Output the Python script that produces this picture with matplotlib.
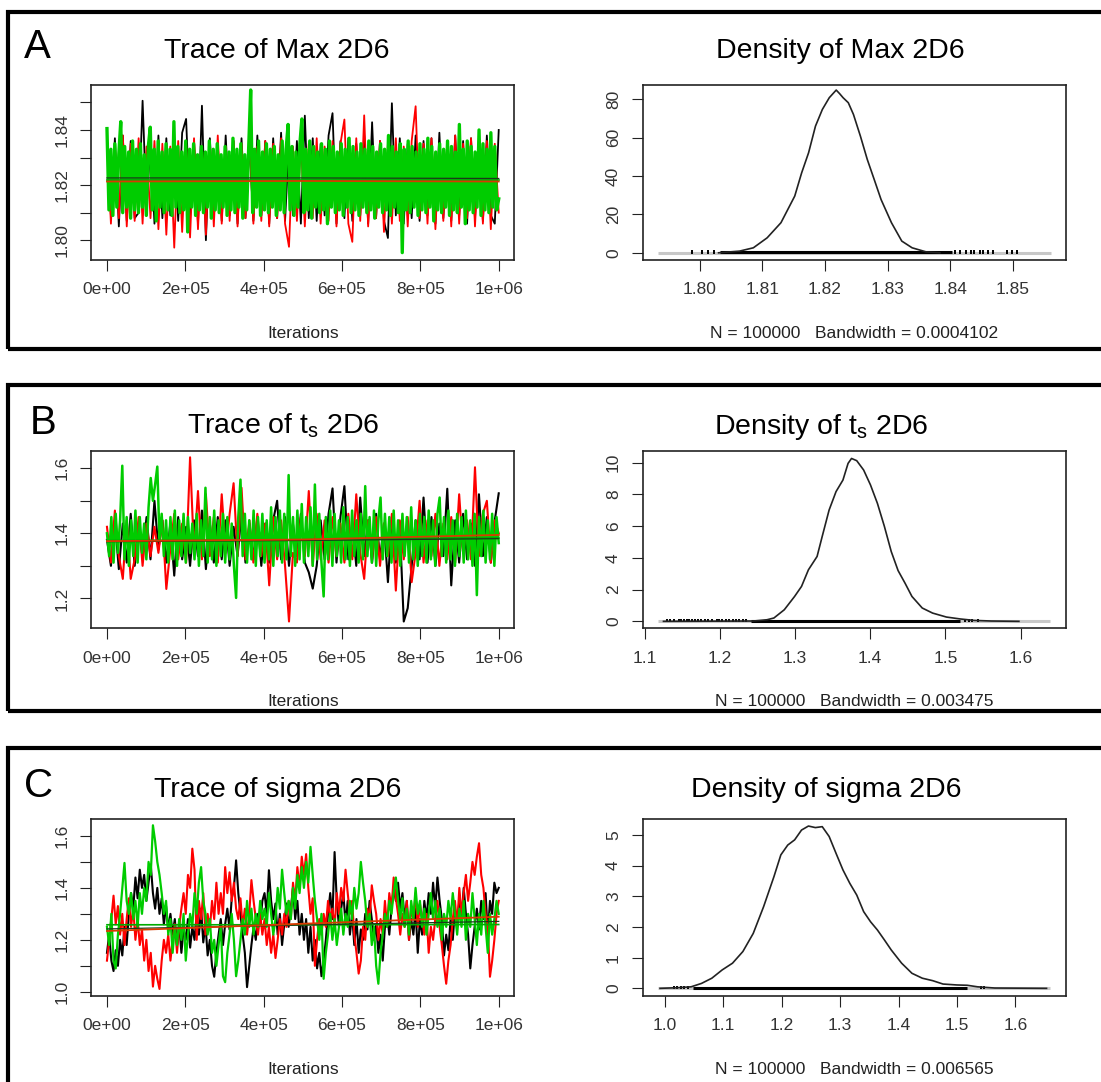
import numpy as np
import matplotlib
matplotlib.use("Agg")
import matplotlib.pyplot as plt
from matplotlib.patches import Rectangle

plt.rcParams["font.family"] = ["Liberation Sans", "DejaVu Sans"]
plt.rcParams["mathtext.fontset"] = "custom"
plt.rcParams["mathtext.rm"] = "Liberation Sans"
plt.rcParams["mathtext.default"] = "regular"

W, H = 1101, 1082

# ---------------- data ----------------
iter_ticks = [0, 200000, 400000, 600000, 800000, 1000000]
iter_labels = ["0e+00", "2e+05", "4e+05", "6e+05", "8e+05", "1e+06"]
chain_colors = ["#000000", "#ff0000", "#00cc00"]

# panel A: Max 2D6 (three chains, black / red / green)
max_black = [1.835, 1.809, 1.837, 1.805, 1.838, 1.807, 1.836, 1.808, 1.810, 1.8506,
             1.811, 1.836, 1.806, 1.838, 1.808, 1.837, 1.809, 1.835, 1.807, 1.839,
             1.844, 1.808, 1.836, 1.806, 1.8488, 1.800, 1.837, 1.808, 1.835, 1.807,
             1.838, 1.809, 1.836, 1.806, 1.837, 1.808, 1.835, 1.807, 1.838, 1.809,
             1.836, 1.806, 1.837, 1.808, 1.839, 1.807, 1.835, 1.809, 1.836, 1.806,
             1.8452, 1.808, 1.837, 1.807, 1.835, 1.809, 1.838, 1.8461, 1.806, 1.836,
             1.808, 1.837, 1.807, 1.835, 1.809, 1.838, 1.806, 1.8428, 1.808, 1.836,
             1.807, 1.8008, 1.8497, 1.809, 1.837, 1.806, 1.835, 1.808, 1.838, 1.807,
             1.836, 1.809, 1.837, 1.806, 1.839, 1.808, 1.835, 1.807, 1.838, 1.809,
             1.836, 1.806, 1.837, 1.808, 1.835, 1.807, 1.838, 1.809, 1.806, 1.840]
max_red = [1.836, 1.806, 1.834, 1.808, 1.838, 1.805, 1.835, 1.807, 1.837, 1.806,
           1.834, 1.808, 1.836, 1.804, 1.835, 1.802, 1.834, 1.7973, 1.836, 1.803,
           1.835, 1.801, 1.837, 1.804, 1.834, 1.802, 1.836, 1.805, 1.838, 1.806,
           1.834, 1.807, 1.836, 1.805, 1.835, 1.808, 1.837, 1.806, 1.834, 1.807,
           1.836, 1.805, 1.835, 1.808, 1.837, 1.806, 1.7976, 1.834, 1.807, 1.836,
           1.805, 1.835, 1.808, 1.837, 1.806, 1.834, 1.807, 1.836, 1.805, 1.835,
           1.8438, 1.806, 1.7994, 1.837, 1.807, 1.8453, 1.805, 1.834, 1.808, 1.836,
           1.803, 1.835, 1.806, 1.837, 1.807, 1.834, 1.805, 1.836, 1.8486, 1.808,
           1.835, 1.806, 1.837, 1.804, 1.834, 1.807, 1.836, 1.805, 1.838, 1.806,
           1.835, 1.808, 1.837, 1.805, 1.834, 1.806, 1.836, 1.804, 1.835, 1.810]
max_green = [1.8405, 1.811, 1.833, 1.809, 1.835, 1.812, 1.831, 1.843, 1.810, 1.834,
             1.812, 1.832, 1.808, 1.836, 1.811, 1.833, 1.810, 1.835, 1.812, 1.831,
             1.809, 1.834, 1.841, 1.811, 1.833, 1.807, 1.836, 1.812, 1.832, 1.810,
             1.835, 1.811, 1.833, 1.809, 1.843, 1.812, 1.834, 1.810, 1.832, 1.811,
             1.836, 1.803, 1.833, 1.812, 1.835, 1.809, 1.831, 1.811, 1.834, 1.810,
             1.832, 1.812, 1.836, 1.808, 1.833, 1.811, 1.835, 1.810, 1.831, 1.812,
             1.834, 1.809, 1.832, 1.811, 1.837, 1.810, 1.833, 1.812, 1.835, 1.808,
             1.831, 1.811, 1.834, 1.8545, 1.810, 1.833, 1.812, 1.836, 1.809, 1.832,
             1.811, 1.835, 1.810, 1.833, 1.812, 1.834, 1.809, 1.831, 1.811, 1.836,
             1.810, 1.833, 1.842, 1.811, 1.834, 1.809, 1.832, 1.812, 1.835, 1.844,
             1.810, 1.833, 1.811, 1.836, 1.808, 1.834, 1.812, 1.832, 1.810, 1.835,
             1.811, 1.833, 1.806, 1.836, 1.812, 1.834, 1.810, 1.832, 1.811, 1.835,
             1.809, 1.833, 1.812, 1.837, 1.810, 1.834, 1.811, 1.832, 1.809, 1.835,
             1.812, 1.833, 1.810, 1.836, 1.811, 1.834, 1.808, 1.832, 1.812, 1.835,
             1.810, 1.833, 1.811, 1.838, 1.809, 1.834, 1.812, 1.832, 1.810, 1.835,
             1.7955, 1.833, 1.811, 1.836, 1.810, 1.834, 1.812, 1.832, 1.809, 1.835,
             1.811, 1.833, 1.810, 1.837, 1.812, 1.834, 1.807, 1.832, 1.811, 1.835,
             1.810, 1.833, 1.812, 1.836, 1.809, 1.834, 1.811, 1.832, 1.810, 1.842,
             1.812, 1.833, 1.806, 1.836, 1.811, 1.834, 1.810, 1.832, 1.812, 1.840,
             1.809, 1.835, 1.811, 1.833, 1.810, 1.839, 1.812, 1.834, 1.811, 1.815]
max_smooth = [[1.8226, 1.8226, 1.8224], [1.8213, 1.8215, 1.8213], [1.8219, 1.8219, 1.8219]]

max_dens_x = [1.8030, 1.80634, 1.80855, 1.81075, 1.81296, 1.81516, 1.81626, 1.81737, 1.81847, 1.81957,
              1.82067, 1.82178, 1.82233, 1.82288, 1.82371, 1.82453, 1.82564, 1.82674, 1.82784, 1.82894,
              1.8306, 1.83225, 1.8339, 1.83611, 1.83832]
max_dens_y = [0, 0.87, 2.6, 7.8, 15.7, 29.6, 41.7, 52.2, 66.1, 74.8,
              80.9, 84.9, 83.0, 80.9, 78.3, 72.2, 60.9, 48.7, 38.3, 27.8,
              15.7, 6.1, 2.6, 0.5, 0]
max_range = [1.7934, 1.8560]
max_rug_dense = [1.8033, 1.8402]
max_rug_sparse = [1.79879, 1.80028, 1.80138, 1.80221, 1.84080, 1.84162, 1.84245, 1.84328,
                  1.84383, 1.84466, 1.84521, 1.84603, 1.84686, 1.84906, 1.84989, 1.85072]

# panel B: t_s 2D6
ts_black = [1.38, 1.30, 1.44, 1.29, 1.43, 1.31, 1.46, 1.30, 1.42, 1.33,
            1.45, 1.32, 1.50, 1.35, 1.44, 1.31, 1.43, 1.27, 1.45, 1.32,
            1.42, 1.30, 1.44, 1.33, 1.47, 1.29, 1.43, 1.31, 1.45, 1.32,
            1.44, 1.30, 1.42, 1.33, 1.46, 1.31, 1.43, 1.32, 1.45, 1.30,
            1.43, 1.31, 1.44, 1.50, 1.32, 1.45, 1.30, 1.43, 1.33, 1.46,
            1.31, 1.28, 1.23, 1.30, 1.44, 1.32, 1.46, 1.538, 1.31, 1.45,
            1.545, 1.32, 1.43, 1.30, 1.51, 1.33, 1.44, 1.31, 1.46, 1.32,
            1.43, 1.25, 1.45, 1.31, 1.42, 1.129, 1.17, 1.30, 1.44, 1.32,
            1.51, 1.31, 1.45, 1.30, 1.43, 1.33, 1.537, 1.24, 1.44, 1.31,
            1.46, 1.32, 1.43, 1.30, 1.52, 1.33, 1.45, 1.31, 1.44, 1.523]
ts_red = [1.42, 1.31, 1.47, 1.33, 1.26, 1.44, 1.26, 1.32, 1.45, 1.30,
          1.43, 1.33, 1.42, 1.34, 1.44, 1.229, 1.35, 1.46, 1.32, 1.43,
          1.31, 1.6336, 1.34, 1.53, 1.32, 1.52, 1.33, 1.45, 1.31, 1.52,
          1.34, 1.46, 1.554, 1.33, 1.54, 1.32, 1.44, 1.31, 1.46, 1.33,
          1.43, 1.24, 1.45, 1.32, 1.44, 1.30, 1.129, 1.34, 1.31, 1.45,
          1.33, 1.53, 1.30, 1.46, 1.32, 1.44, 1.31, 1.45, 1.33, 1.43,
          1.31, 1.46, 1.32, 1.52, 1.34, 1.26, 1.44, 1.32, 1.45, 1.30,
          1.43, 1.33, 1.46, 1.224, 1.44, 1.32, 1.45, 1.25, 1.34, 1.50,
          1.31, 1.44, 1.33, 1.46, 1.30, 1.43, 1.32, 1.45, 1.31, 1.52,
          1.34, 1.44, 1.32, 1.603, 1.33, 1.46, 1.50, 1.31, 1.44, 1.40]
ts_green = [1.40, 1.33, 1.45, 1.31, 1.46, 1.34, 1.44, 1.6077, 1.32, 1.45,
            1.30, 1.44, 1.33, 1.47, 1.31, 1.45, 1.34, 1.43, 1.32, 1.48,
            1.57, 1.50, 1.55, 1.605, 1.38, 1.46, 1.33, 1.44, 1.31, 1.45,
            1.32, 1.47, 1.30, 1.44, 1.33, 1.46, 1.31, 1.45, 1.34, 1.43,
            1.32, 1.46, 1.30, 1.44, 1.33, 1.54, 1.31, 1.45, 1.32, 1.47,
            1.30, 1.44, 1.33, 1.46, 1.31, 1.45, 1.32, 1.43, 1.30, 1.2015,
            1.45, 1.565, 1.33, 1.46, 1.31, 1.44, 1.32, 1.47, 1.30, 1.45,
            1.33, 1.46, 1.31, 1.44, 1.32, 1.48, 1.30, 1.45, 1.33, 1.47,
            1.31, 1.46, 1.32, 1.579, 1.33, 1.45, 1.30, 1.47, 1.32, 1.49,
            1.31, 1.45, 1.33, 1.48, 1.30, 1.55, 1.32, 1.46, 1.31, 1.206,
            1.45, 1.32, 1.47, 1.30, 1.46, 1.33, 1.44, 1.31, 1.48, 1.32,
            1.45, 1.30, 1.47, 1.33, 1.44, 1.31, 1.46, 1.32, 1.545, 1.33,
            1.45, 1.31, 1.47, 1.30, 1.44, 1.51, 1.32, 1.46, 1.33, 1.45,
            1.31, 1.47, 1.32, 1.44, 1.30, 1.46, 1.33, 1.45, 1.31, 1.48,
            1.32, 1.44, 1.30, 1.46, 1.33, 1.45, 1.31, 1.47, 1.32, 1.44,
            1.30, 1.46, 1.51, 1.33, 1.45, 1.31, 1.47, 1.32, 1.44, 1.30,
            1.46, 1.33, 1.45, 1.31, 1.47, 1.32, 1.44, 1.30, 1.46, 1.21,
            1.45, 1.33, 1.47, 1.31, 1.44, 1.32, 1.46, 1.30, 1.45, 1.37]
ts_smooth = [[1.3744, 1.378, 1.3836], [1.376, 1.381, 1.395], [1.378, 1.380, 1.386]]

ts_dens_x = [1.1252, 1.2445, 1.2628, 1.2720, 1.2858, 1.2995, 1.3087, 1.3179, 1.3294, 1.3362,
             1.3454, 1.3546, 1.3638, 1.3706, 1.3752, 1.3821, 1.3913, 1.4004, 1.4096, 1.4188,
             1.4280, 1.4371, 1.4463, 1.4555, 1.4692, 1.4830, 1.5014, 1.5197, 1.5380, 1.5610,
             1.5977]
ts_dens_y = [0, 0.02, 0.10, 0.21, 0.73, 1.57, 2.20, 3.25, 4.09, 5.35,
             7.02, 8.18, 8.91, 9.96, 10.27, 10.13, 9.54, 8.60, 7.44, 6.0,
             4.4, 3.2, 2.41, 1.57, 0.84, 0.52, 0.27, 0.15, 0.06, 0.02,
             0]
ts_range = [1.1183, 1.6390]
ts_rug_dense = [1.2422, 1.5197]
ts_rug_sparse = [1.1298, 1.1335, 1.1390, 1.1459, 1.1491, 1.1528, 1.1564, 1.1596, 1.1633, 1.1665,
                 1.1711, 1.1757, 1.1803, 1.1849, 1.1894, 1.1963, 1.1986, 1.2032, 1.2078, 1.2124,
                 1.2170, 1.2216, 1.2261, 1.2307, 1.2353, 1.5266, 1.5312, 1.5358, 1.5427]

# panel C: sigma 2D6
sigma_black = [1.15, 1.22, 1.12, 1.08, 1.16, 1.10, 1.20, 1.14, 1.25, 1.18,
               1.30, 1.38, 1.32, 1.44, 1.36, 1.47, 1.40, 1.45, 1.35, 1.42,
               1.49, 1.38, 1.32, 1.40, 1.30, 1.36, 1.26, 1.33, 1.24, 1.30,
               1.22, 1.28, 1.18, 1.26, 1.15, 1.24, 1.20, 1.28, 1.17, 1.25,
               1.20, 1.30, 1.22, 1.32, 1.19, 1.26, 1.14, 1.20, 1.10, 1.058,
               1.15, 1.22, 1.28, 1.18, 1.26, 1.32, 1.24, 1.36, 1.40, 1.506,
               1.38, 1.30, 1.22, 1.15, 1.018, 1.10, 1.18, 1.25, 1.20, 1.30,
               1.26, 1.35, 1.38, 1.30, 1.468, 1.35, 1.28, 1.34, 1.22, 1.30,
               1.18, 1.26, 1.34, 1.25, 1.32, 1.40, 1.28, 1.35, 1.22, 1.30,
               1.20, 1.28, 1.15, 1.25, 1.12, 1.20, 1.09, 1.15, 1.06, 1.12,
               1.20, 1.30, 1.38, 1.28, 1.538, 1.35, 1.25, 1.32, 1.38, 1.26,
               1.35, 1.22, 1.30, 1.18, 1.28, 1.15, 1.24, 1.20, 1.30, 1.24,
               1.35, 1.28, 1.20, 1.26, 1.15, 1.22, 1.12, 1.25, 1.30, 1.22,
               1.32, 1.40, 1.35, 1.42, 1.32, 1.38, 1.28, 1.35, 1.20, 1.28,
               1.22, 1.32, 1.15, 1.28, 1.22, 1.35, 1.28, 1.38, 1.30, 1.42,
               1.32, 1.44, 1.35, 1.28, 1.14, 1.22, 1.16, 1.28, 1.20, 1.32,
               1.26, 1.35, 1.28, 1.40, 1.30, 1.22, 1.09, 1.18, 1.25, 1.32,
               1.24, 1.35, 1.28, 1.38, 1.22, 1.35, 1.30, 1.42, 1.38, 1.40]
sigma_red = [1.12, 1.20, 1.28, 1.37, 1.26, 1.33, 1.22, 1.30, 1.18, 1.28,
             1.36, 1.25, 1.32, 1.20, 1.28, 1.18, 1.24, 1.12, 1.20, 1.08,
             1.15, 1.02, 1.10, 1.05, 1.011, 1.12, 1.20, 1.15, 1.22, 1.12,
             1.20, 1.26, 1.15, 1.25, 1.32, 1.38, 1.30, 1.45, 1.40, 1.551,
             1.47, 1.20, 1.35, 1.28, 1.38, 1.22, 1.30, 1.24, 1.35, 1.28,
             1.42, 1.30, 1.38, 1.30, 1.48, 1.38, 1.46, 1.35, 1.42, 1.32,
             1.28, 1.36, 1.25, 1.32, 1.22, 1.30, 1.43, 1.35, 1.28, 1.22,
             1.30, 1.22, 1.28, 1.18, 1.25, 1.15, 1.22, 1.13, 1.20, 1.28,
             1.22, 1.30, 1.25, 1.35, 1.28, 1.42, 1.35, 1.48, 1.40, 1.52,
             1.45, 1.53, 1.40, 1.30, 1.36, 1.10, 1.20, 1.28, 1.22, 1.30,
             1.25, 1.35, 1.28, 1.32, 1.25, 1.38, 1.30, 1.40, 1.35, 1.47,
             1.38, 1.30, 1.35, 1.22, 1.15, 1.07, 1.12, 1.25, 1.20, 1.32,
             1.28, 1.41, 1.35, 1.30, 1.20, 1.28, 1.22, 1.35, 1.25, 1.38,
             1.32, 1.44, 1.36, 1.30, 1.22, 1.30, 1.25, 1.35, 1.20, 1.32,
             1.28, 1.38, 1.25, 1.34, 1.28, 1.22, 1.30, 1.15, 1.25, 1.20,
             1.28, 1.35, 1.25, 1.18, 1.10, 1.031, 1.12, 1.18, 1.28, 1.35,
             1.25, 1.40, 1.30, 1.38, 1.45, 1.35, 1.42, 1.50, 1.45, 1.52,
             1.572, 1.45, 1.40, 1.30, 1.25, 1.058, 1.12, 1.20, 1.30, 1.35]
sigma_green = [1.25, 1.18, 1.30, 1.12, 1.09, 1.22, 1.30, 1.40, 1.496, 1.35,
               1.30, 1.38, 1.28, 1.35, 1.25, 1.38, 1.30, 1.40, 1.35, 1.50,
               1.45, 1.641, 1.58, 1.50, 1.45, 1.38, 1.30, 1.35, 1.22, 1.28,
               1.15, 1.25, 1.18, 1.28, 1.20, 1.30, 1.12, 1.22, 1.30, 1.25,
               1.38, 1.30, 1.42, 1.48, 1.35, 1.30, 1.22, 1.28, 1.15, 1.20,
               1.10, 1.18, 1.25, 1.06, 1.037, 1.15, 1.22, 1.30, 1.20, 1.06,
               1.12, 1.20, 1.28, 1.22, 1.35, 1.25, 1.32, 1.22, 1.30, 1.25,
               1.35, 1.28, 1.32, 1.25, 1.38, 1.30, 1.22, 1.28, 1.40, 1.32,
               1.47, 1.38, 1.30, 1.35, 1.28, 1.40, 1.32, 1.45, 1.38, 1.48,
               1.40, 1.50, 1.42, 1.558, 1.45, 1.35, 1.28, 1.20, 1.30, 1.05,
               1.15, 1.22, 1.30, 1.20, 1.28, 1.18, 1.25, 1.32, 1.22, 1.30,
               1.25, 1.35, 1.28, 1.40, 1.32, 1.38, 1.50, 1.42, 1.35, 1.25,
               1.30, 1.18, 1.25, 1.10, 1.031, 1.15, 1.22, 1.30, 1.25, 1.35,
               1.30, 1.38, 1.44, 1.35, 1.28, 1.36, 1.25, 1.32, 1.22, 1.35,
               1.28, 1.40, 1.30, 1.35, 1.25, 1.32, 1.22, 1.30, 1.38, 1.28,
               1.35, 1.25, 1.32, 1.20, 1.30, 1.25, 1.35, 1.28, 1.38, 1.30,
               1.22, 1.32, 1.25, 1.35, 1.20, 1.30, 1.25, 1.38, 1.28, 1.18,
               1.30, 1.22, 1.35, 1.25, 1.15, 1.30, 1.22, 1.28, 1.35, 1.30]
sigma_smooth = [[1.242, 1.257, 1.271], [1.234, 1.262, 1.289], [1.258, 1.258, 1.259]]

sigma_dens_x = [0.9923, 1.0218, 1.0454, 1.0631, 1.0808, 1.0985, 1.1162, 1.1339, 1.1516, 1.1693,
                1.1870, 1.1988, 1.2106, 1.2224, 1.2342, 1.2460, 1.2578, 1.2696, 1.2814, 1.2932,
                1.3050, 1.3168, 1.3286, 1.3404, 1.3522, 1.3640, 1.3758, 1.3876, 1.4053, 1.4230,
                1.4407, 1.4584, 1.4761, 1.4997, 1.5174, 1.5351, 1.5646, 1.6531]
sigma_dens_y = [0, 0.02, 0.05, 0.16, 0.33, 0.60, 0.82, 1.20, 1.79, 2.66,
                3.64, 4.35, 4.67, 4.84, 5.16, 5.29, 5.24, 5.27, 4.95, 4.40,
                3.86, 3.42, 3.04, 2.50, 2.17, 1.90, 1.58, 1.25, 0.82, 0.49,
                0.33, 0.25, 0.14, 0.11, 0.10, 0.05, 0.01, 0]
sigma_range = [0.9894, 1.6590]
sigma_rug_dense = [1.0484, 1.5174]
sigma_rug_sparse = [1.0159, 1.0218, 1.0277, 1.0336, 1.0395, 1.5410, 1.5470]

n_draws = 100000
bandwidths = ["0.0004102", "0.003475", "0.006565"]
param_names = ["Max", "t$_s$", "sigma"]
panel_letters = ["A", "B", "C"]


def px_axes(fig, x0, y0, x1, y1):
    return fig.add_axes([x0 / W, 1 - y1 / H, (x1 - x0) / W, (y1 - y0) / H])


def px_text(fig, x, y, s, **kw):
    fig.text(x / W, 1 - y / H, s, **kw)


def style_axes(ax):
    for sp in ax.spines.values():
        sp.set_linewidth(1.2)
        sp.set_color("#222222")
    ax.tick_params(length=7.9, width=0.8, color="#222222",
                   labelsize=12.5, labelcolor="#333333")
    ax.tick_params(axis="x", pad=8.4)
    ax.tick_params(axis="y", pad=7.8)


def draw_trace(ax, chains, smooth, ylim, yticks, ylabels, widths):
    for vals, col, lw in zip(chains, chain_colors, widths):
        it = np.linspace(0, 1e6, len(vals))
        ax.plot(it, vals, color=col, lw=lw, solid_joinstyle="round")
    # lowess lines, green first so red ends up on top
    for idx, col, lw in [(2, "#00aa00", 1.2), (0, "#1a3a1a", 0.9), (1, "#d83a00", 1.3)]:
        vals = smooth[idx]
        ax.plot(np.linspace(0, 1e6, len(vals)), vals, color=col, lw=lw)
    ax.set_xlim(-40000, 1040000)
    ax.set_ylim(*ylim)
    ax.set_xticks(iter_ticks)
    ax.set_xticklabels(iter_labels)
    ax.set_yticks(yticks)
    ax.set_yticklabels(ylabels, rotation=90, va="center")
    style_axes(ax)


def draw_density(ax, dx, dy, full_range, dense, sparse, xlim, ylim, xticks, yticks):
    h = max(dy) / 100
    ax.plot(full_range, [0, 0], color="#c8c8c8", lw=2.2, solid_capstyle="butt")
    ax.plot(dense, [h / 2, h / 2], color="black", lw=2.2, solid_capstyle="butt")
    ax.vlines(sparse, -h * 0.6, h * 1.6, color="black", lw=1.4)
    ax.plot(dx, dy, color="#222222", lw=1.2, solid_joinstyle="round")
    ax.set_xlim(*xlim)
    ax.set_ylim(*ylim)
    ax.set_xticks(xticks)
    fmt = "{:.2f}" if xticks[1] - xticks[0] < 0.05 else "{:.1f}"
    ax.set_xticklabels([fmt.format(t) for t in xticks])
    ax.set_yticks(yticks)
    ax.set_yticklabels([str(t) for t in yticks], rotation=90, va="center")
    style_axes(ax)


def main():
    fig = plt.figure(figsize=(W / 100, H / 100), dpi=100)

    panels = [
        dict(box=(12, 349), rows=(84.5, 259.5), letter_x=24, base=58.3, tt_x=277, dt_x=840, lab_y=338,
             chains=[max_black, max_red, max_green], smooth=max_smooth, widths=[1.3, 1.3, 2.4],
             tylim=(1.7930, 1.8565), tyticks=[1.80, 1.81, 1.82, 1.83, 1.84, 1.85],
             tylabels=["1.80", "", "1.82", "", "1.84", ""],
             dens=(max_dens_x, max_dens_y, max_range, max_rug_dense, max_rug_sparse),
             dxlim=(1.7909, 1.8585), dylim=(-3.5, 87.8),
             dxticks=[1.80, 1.81, 1.82, 1.83, 1.84, 1.85], dyticks=[0, 20, 40, 60, 80]),
        dict(box=(385.3, 710.7), rows=(451, 628), letter_x=30, base=434, tt_x=283, dt_x=821, lab_y=706,
             chains=[ts_black, ts_red, ts_green], smooth=ts_smooth, widths=[1.5, 1.5, 1.8],
             tylim=(1.109, 1.653), tyticks=[1.2, 1.3, 1.4, 1.5, 1.6],
             tylabels=["1.2", "", "1.4", "", "1.6"],
             dens=(ts_dens_x, ts_dens_y, ts_range, ts_rug_dense, ts_rug_sparse),
             dxlim=(1.0977, 1.6606), dylim=(-0.42, 10.74),
             dxticks=[1.1, 1.2, 1.3, 1.4, 1.5, 1.6], dyticks=[0, 2, 4, 6, 8, 10]),
        dict(box=(748.3, 1100), rows=(819.3, 995.7), letter_x=24, base=797, tt_x=278, dt_x=826, lab_y=1074,
             chains=[sigma_black, sigma_red, sigma_green], smooth=sigma_smooth, widths=[1.5, 1.5, 1.6],
             tylim=(0.985, 1.664), tyticks=[1.0, 1.1, 1.2, 1.3, 1.4, 1.5, 1.6],
             tylabels=["1.0", "", "1.2", "", "1.4", "", "1.6"],
             dens=(sigma_dens_x, sigma_dens_y, sigma_range, sigma_rug_dense, sigma_rug_sparse),
             dxlim=(0.9628, 1.6867), dylim=(-0.24, 5.51),
             dxticks=[1.0, 1.1, 1.2, 1.3, 1.4, 1.5, 1.6], dyticks=[0, 1, 2, 3, 4, 5]),
    ]

    for i, p in enumerate(panels):
        top, bottom = p["box"]
        fig.add_artist(Rectangle((7.5 / W, 1 - bottom / H), 1.2, (bottom - top) / H,
                                 transform=fig.transFigure, fill=False, lw=3,
                                 ec="black", clip_on=False))
        y0, y1 = p["rows"]
        tax = px_axes(fig, 91.3, y0, 514.4, y1)
        draw_trace(tax, p["chains"], p["smooth"], p["tylim"], p["tyticks"], p["tylabels"], p["widths"])
        dax = px_axes(fig, 642.8, y0, 1066.2, y1)
        dx, dy, rng, dense, sparse = p["dens"]
        draw_density(dax, dx, dy, rng, dense, sparse, p["dxlim"], p["dylim"], p["dxticks"], p["dyticks"])

        px_text(fig, p["letter_x"], p["base"], panel_letters[i], fontsize=29, va="baseline")
        px_text(fig, p["tt_x"], p["base"], f"Trace of {param_names[i]} 2D6",
                fontsize=20.5, ha="center", va="baseline")
        px_text(fig, p["dt_x"], p["base"], f"Density of {param_names[i]} 2D6",
                fontsize=20.5, ha="center", va="baseline")
        px_text(fig, 302.8, p["lab_y"], "Iterations", fontsize=12.5, color="#222222",
                ha="center", va="baseline")
        px_text(fig, 854.5, p["lab_y"], f"N = {n_draws}   Bandwidth = {bandwidths[i]}",
                fontsize=12.5, color="#222222", ha="center", va="baseline")

    fig.savefig("out.png", dpi=100, facecolor="white")


if __name__ == "__main__":
    main()
